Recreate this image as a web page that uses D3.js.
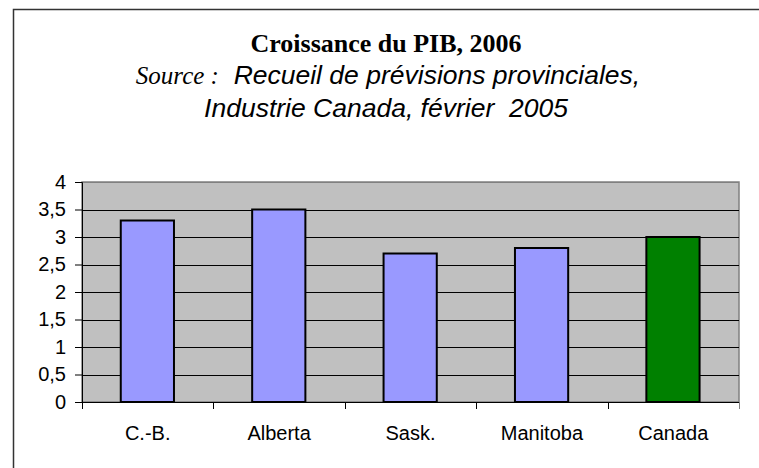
<!DOCTYPE html>
<html>
<head>
<meta charset="utf-8">
<script src="https://cdn.jsdelivr.net/npm/d3@7"></script>
<style>
body{margin:0;background:#fff;}
svg text{fill:#000;}
</style>
</head>
<body>
<svg id="chart" width="759" height="468"></svg>
<script>
const categories = ["C.-B.", "Alberta", "Sask.", "Manitoba", "Canada"];
const values = [3.3, 3.5, 2.7, 2.8, 3.0];
const barColors = ["#9999ff", "#9999ff", "#9999ff", "#9999ff", "#008000"];
const yTicks = [0, 0.5, 1, 1.5, 2, 2.5, 3, 3.5, 4];

const svg = d3.select('#chart');
const plot = {left: 82, right: 739, top: 182, bottom: 402};
const SANS = 'Liberation Sans, Arial, sans-serif';
const SERIF = 'Liberation Serif, Times New Roman, serif';

// outer frame (only top and left show in the crop)
svg.append('path')
    .attr('d', 'M13.5,468 L13.5,9.5 L759,9.5')
    .attr('fill', 'none').attr('stroke', '#333').attr('stroke-width', 1.5);

// titles
svg.append('text')
    .attr('x', 386).attr('y', 52)
    .attr('text-anchor', 'middle')
    .attr('font-family', SERIF)
    .attr('font-weight', 'bold').attr('font-size', 26)
    .text('Croissance du PIB, 2006');
const sub = svg.append('text')
    .attr('x', 388).attr('y', 84)
    .attr('text-anchor', 'middle')
    .attr('font-style', 'italic');
sub.append('tspan').attr('font-family', SERIF).attr('font-size', 25).text('Source :');
sub.append('tspan').attr('font-family', SANS).attr('font-size', 26.5).text('\u00a0 Recueil de pr\u00e9visions provinciales,');
svg.append('text')
    .attr('x', 386).attr('y', 117)
    .attr('text-anchor', 'middle')
    .attr('font-family', SANS)
    .attr('font-style', 'italic').attr('font-size', 26.5)
    .text('Industrie Canada, f\u00e9vrier \u00a02005');

const x = d3.scaleBand().domain(categories).range([plot.left, plot.right]).paddingInner(0).paddingOuter(0);
const y = d3.scaleLinear().domain([0, 4]).range([plot.bottom, plot.top]);

// plot background
svg.append('rect')
    .attr('x', plot.left).attr('y', plot.top)
    .attr('width', plot.right - plot.left).attr('height', plot.bottom - plot.top)
    .attr('fill', '#c0c0c0').attr('stroke', '#808080').attr('stroke-width', 1.5);

// gridlines
svg.append('g').selectAll('line').data(yTicks.filter(d => d > 0)).join('line')
    .attr('x1', plot.left).attr('x2', plot.right)
    .attr('y1', d => Math.round(y(d)) + 0.5).attr('y2', d => Math.round(y(d)) + 0.5)
    .attr('stroke', d => d === 4 ? '#808080' : '#000').attr('stroke-width', 1);

// bars
svg.append('g').selectAll('rect').data(values).join('rect')
    .attr('x', (d, i) => x(categories[i]) + x.bandwidth() * 0.295)
    .attr('width', x.bandwidth() * 0.405)
    .attr('y', d => y(d))
    .attr('height', d => y(0) - y(d))
    .attr('fill', (d, i) => barColors[i])
    .attr('stroke', '#000').attr('stroke-width', 2);

// y axis
const yAxis = svg.append('g')
    .attr('transform', `translate(${plot.left},0)`)
    .call(d3.axisLeft(y).tickValues(yTicks).tickSize(7).tickPadding(9)
        .tickFormat(d => String(d).replace('.', ',')));
yAxis.selectAll('text').attr('font-family', SANS).attr('font-size', 20);
yAxis.select('.domain').attr('stroke', '#000');

// x axis: ticks at band boundaries
const xg = svg.append('g').attr('transform', `translate(0,${plot.bottom})`);
xg.append('line').attr('x1', plot.left - 7).attr('x2', plot.right)
    .attr('y1', 0.5).attr('y2', 0.5).attr('stroke', '#000');
const bounds = categories.map(c => x(c)).concat([plot.right]);
xg.selectAll('line.tk').data(bounds).join('line').attr('class', 'tk')
    .attr('x1', d => Math.round(d) + 0.5).attr('x2', d => Math.round(d) + 0.5)
    .attr('y1', 0).attr('y2', 7).attr('stroke', d => d === plot.right ? '#808080' : '#000');
xg.selectAll('text').data(categories).join('text')
    .attr('x', d => x(d) + x.bandwidth() / 2).attr('y', 38)
    .attr('text-anchor', 'middle')
    .attr('font-family', SANS).attr('font-size', 20)
    .text(d => d);
</script>
</body>
</html>
